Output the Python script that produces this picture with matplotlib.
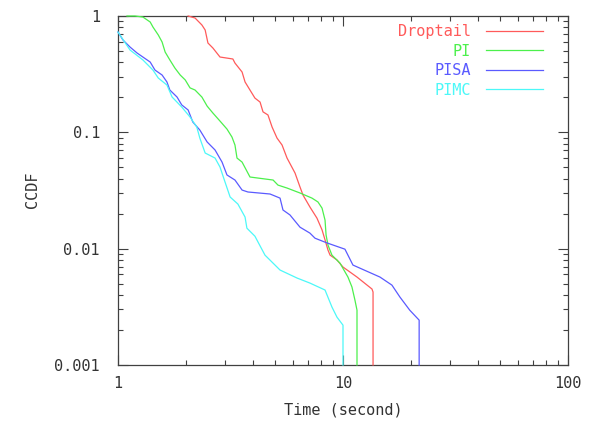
import matplotlib
matplotlib.use("Agg")
import matplotlib.pyplot as plt
from matplotlib.ticker import LogLocator, NullFormatter, FixedFormatter, FixedLocator

# CCDF of flow completion time
droptail_t = [2.05, 2.20, 2.36, 2.44, 2.51, 2.64, 2.84, 3.24, 3.31, 3.56, 3.67, 3.86,
              4.06, 4.28, 4.41, 4.64, 4.84, 5.09, 5.36, 5.64, 6.12, 6.44, 6.64, 7.13,
              7.66, 8.07, 8.32, 8.58, 8.76, 9.40, 10.0, 11.54, 13.45, 13.6, 13.6]
droptail_p = [1.0, 0.961, 0.837, 0.758, 0.586, 0.531, 0.444, 0.427, 0.394, 0.330, 0.271, 0.231,
              0.197, 0.182, 0.150, 0.141, 0.111, 0.0893, 0.0778, 0.0601, 0.0447, 0.0339, 0.0289, 0.0228,
              0.0183, 0.0145, 0.0119, 0.0097, 0.0088, 0.0080, 0.00695, 0.0057, 0.0045, 0.00424, 0.001]

pi_t = [1.096, 1.19, 1.29, 1.39, 1.43, 1.51, 1.57, 1.62, 1.70, 1.79, 1.89, 1.99, 2.09,
        2.20, 2.36, 2.49, 2.64, 2.84, 3.05, 3.21, 3.31, 3.38, 3.56, 3.86, 4.89, 5.14,
        5.64, 6.44, 7.28, 7.74, 8.07, 8.32, 8.41, 8.58, 8.93, 9.70, 10.52, 10.96, 11.3,
        11.54, 11.54]
pi_p = [1.0, 1.0, 0.98, 0.888, 0.804, 0.687, 0.598, 0.49, 0.419, 0.357, 0.311, 0.282, 0.241,
        0.231, 0.201, 0.168, 0.1466, 0.125, 0.1067, 0.0911, 0.0778, 0.0601, 0.0555, 0.0413, 0.0389, 0.0352,
        0.0332, 0.0301, 0.0272, 0.0252, 0.0223, 0.0176, 0.0131, 0.0107, 0.0088, 0.0075, 0.0057, 0.00468, 0.00361,
        0.00296, 0.001]

pisa_t = [1.0, 1.052, 1.131, 1.215, 1.29, 1.39, 1.46, 1.57, 1.65, 1.70, 1.83, 1.92, 2.05,
          2.15, 2.31, 2.49, 2.70, 2.90, 3.05, 3.31, 3.56, 3.78, 4.74, 5.25, 5.41, 5.81,
          6.44, 7.13, 7.51, 8.49, 10.2, 11.07, 14.6, 16.5, 17.9, 19.8, 21.8, 21.8]
pisa_p = [0.728, 0.622, 0.541, 0.481, 0.444, 0.402, 0.343, 0.311, 0.271, 0.231, 0.201, 0.172, 0.1556,
          0.1227, 0.1047, 0.0826, 0.0705, 0.0555, 0.0430, 0.0389, 0.0319, 0.0307, 0.0295, 0.0272, 0.0215, 0.0195,
          0.0153, 0.0136, 0.0123, 0.0112, 0.0099, 0.00723, 0.0057, 0.00486, 0.00384, 0.00296, 0.00243, 0.001]

pimc_t = [1.0, 1.131, 1.29, 1.43, 1.51, 1.65, 1.74, 1.92, 2.09, 2.24, 2.31, 2.44, 2.70,
          2.84, 2.99, 3.15, 3.41, 3.67, 3.74, 4.06, 4.50, 5.25, 6.25, 7.13, 8.32, 8.93,
          9.40, 10.0, 10.0]
pimc_p = [0.728, 0.51, 0.419, 0.343, 0.293, 0.255, 0.201, 0.165, 0.1354, 0.111, 0.0893, 0.0664, 0.0601,
          0.0503, 0.0374, 0.0278, 0.0242, 0.0187, 0.0150, 0.0128, 0.0088, 0.00655, 0.00559, 0.00506, 0.00441, 0.00315,
          0.00258, 0.0022, 0.001]

series = [
    ("Droptail", droptail_t, droptail_p, "#ff5a5a"),
    ("PI", pi_t, pi_p, "#4cf04c"),
    ("PISA", pisa_t, pisa_p, "#5a5aff"),
    ("PIMC", pimc_t, pimc_p, "#4cf8f8"),
]

font = "DejaVu Sans Mono"
fs = 11
axcol = "#404040"
txtcol = "#333333"

fig = plt.figure(figsize=(5.91, 4.21), dpi=100)
ax = fig.add_axes([118 / 591, 1 - 365 / 421, 450 / 591, 349 / 421])

for name, t, p, c in series:
    ax.plot(t, p, color=c, lw=0.9, label=name, clip_on=False, zorder=3)

ax.set_xscale("log")
ax.set_yscale("log")
ax.set_xlim(1, 100)
ax.set_ylim(0.001, 1)

ax.xaxis.set_major_locator(FixedLocator([1, 10, 100]))
ax.xaxis.set_major_formatter(FixedFormatter(["1", "10", "100"]))
ax.yaxis.set_major_locator(FixedLocator([0.001, 0.01, 0.1, 1]))
ax.yaxis.set_major_formatter(FixedFormatter(["0.001", "0.01", "0.1", "1"]))
ax.xaxis.set_minor_locator(LogLocator(base=10, subs=range(2, 10)))
ax.yaxis.set_minor_locator(LogLocator(base=10, subs=range(2, 10)))
ax.xaxis.set_minor_formatter(NullFormatter())
ax.yaxis.set_minor_formatter(NullFormatter())

ax.tick_params(which="both", direction="in", top=True, right=True, color=axcol, width=0.8)
ax.tick_params(which="major", length=7.2)
ax.tick_params(which="minor", length=3.3)
ax.tick_params(axis="y", which="major", pad=13, labelsize=fs, labelcolor=txtcol)
ax.tick_params(axis="x", which="major", pad=8, labelsize=fs, labelcolor=txtcol)
for lab in ax.get_xticklabels() + ax.get_yticklabels():
    lab.set_fontfamily(font)
for s in ax.spines.values():
    s.set_color(axcol)
    s.set_linewidth(0.9)

fig.text(343 / 591, 1 - 410 / 421, "Time (second)", family=font, fontsize=fs,
         ha="center", va="center", color=txtcol)
fig.text(33 / 591, 1 - 190 / 421, "CCDF", family=font, fontsize=fs, rotation=90,
         ha="center", va="center", color=txtcol)

leg = ax.legend(loc="upper right", bbox_to_anchor=(0.944, 0.977), frameon=False,
                markerfirst=False, labelcolor="linecolor", handlelength=3.7,
                handletextpad=1.0, labelspacing=0.3, borderpad=0, borderaxespad=0,
                prop={"family": font, "size": fs})

fig.savefig("out.png", dpi=100)
